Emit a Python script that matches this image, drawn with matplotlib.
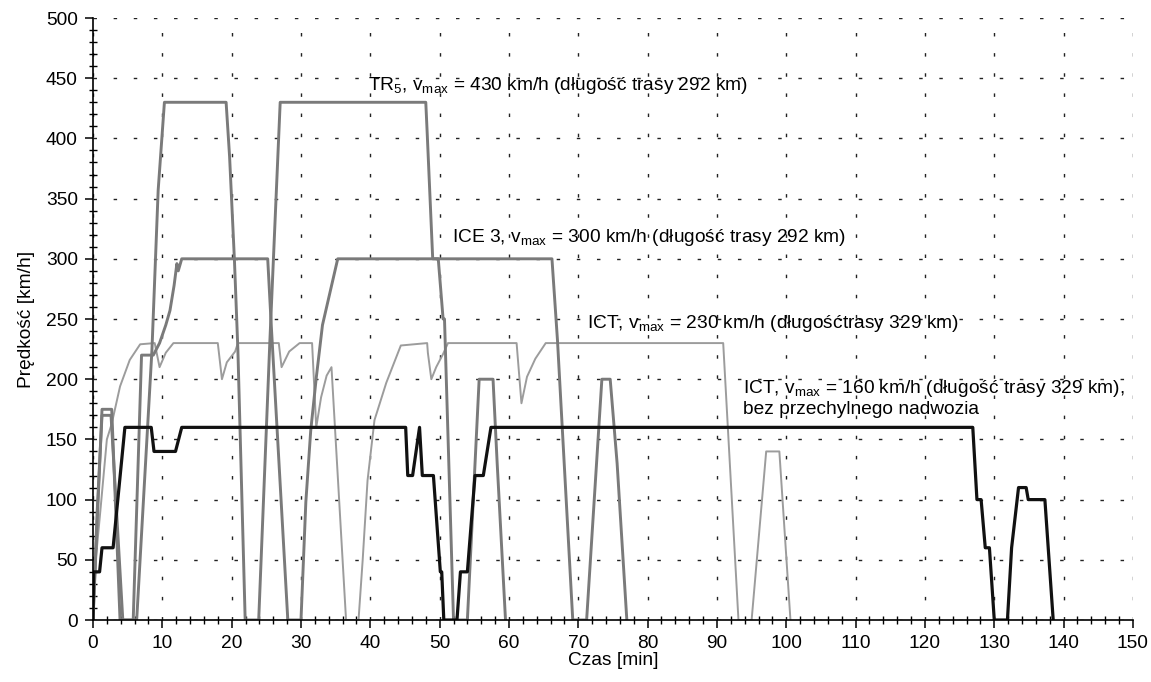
import numpy as np
import matplotlib
matplotlib.use('Agg')
import matplotlib.pyplot as plt
from matplotlib.ticker import MultipleLocator

plt.rcParams['font.family'] = ['Liberation Sans', 'DejaVu Sans']
plt.rcParams['mathtext.default'] = 'regular'

# TR5, vmax 430
tr5_t = [0, 1.3, 2.7, 3.9, 6.3, 8.5, 9.4, 10.3, 19.2, 19.7, 20.4, 20.9, 21.95, 23.9, 25.5, 27.0,
         48.0, 48.2, 49.0, 49.8, 50.5, 50.7, 52.0, 54.0, 55.7, 57.7, 58.3, 59.5]
tr5_v = [0, 175, 175, 0, 0, 224, 357, 430, 430, 385, 299, 224, 0, 0, 230, 430,
         430, 405, 300, 300, 250, 250, 0, 0, 200, 200, 130, 0]

# ICE 3, vmax 300
ice3_t = [0, 0.6, 1.3, 2.6, 4.3, 5.8, 7.0, 8.7, 9.6, 10.5, 11.1, 11.7, 12.1, 12.3, 12.8,
          25.2, 25.7, 28.1, 30.0, 30.7, 31.4, 32.2, 33.1, 34.3, 35.3,
          66.2, 67.0, 69.2, 71.2, 73.4, 74.6, 75.6, 77.0]
ice3_v = [0, 90, 170, 170, 0, 0, 220, 220, 230, 245, 257, 278, 296, 290, 300,
          300, 246, 0, 0, 98, 157, 201, 245, 275, 300,
          300, 232, 0, 0, 200, 200, 130, 0]

# ICT, vmax 230
ict230_t = [0, 0.4, 1.05, 2.0, 2.7, 3.9, 5.3, 6.8, 8.9, 9.6, 10.5, 11.6,
            18.0, 18.6, 19.3, 20.5, 20.9, 26.8, 27.2, 28.3, 29.8, 31.6, 32.2, 32.9, 33.7, 34.4,
            36.5, 38.3, 38.9, 39.6, 40.6, 42.3, 44.4, 48.2, 48.3, 48.8, 49.5, 50.5, 51.2,
            61.1, 61.8, 62.6, 63.8, 65.3, 90.9, 93.1, 95.0, 97.1, 99.0, 100.6]
ict230_v = [0, 50, 90, 150, 163, 194, 216, 229, 230, 210, 222, 230,
            230, 200, 214, 223, 230, 230, 210, 223, 230, 230, 160, 185, 203, 210,
            0, 0, 50, 116, 166, 197, 228, 230, 222, 200, 210, 221, 230,
            230, 180, 202, 217, 230, 230, 0, 0, 140, 140, 0]

# ICT, vmax 160, bez przechylnego nadwozia
ict160_t = [0, 0.1, 0.95, 1.3, 2.9, 4.6, 8.4, 8.8, 11.9, 12.8, 45.1, 45.4, 46.1, 47.1, 47.5,
            49.1, 50.1, 50.3, 50.6, 52.5, 53.0, 54.0, 55.1, 56.3, 57.4,
            126.9, 127.5, 128.1, 128.7, 129.3, 130.0, 131.9, 132.5, 133.5, 134.6, 134.9, 137.3, 138.5]
ict160_v = [0, 40, 40, 60, 60, 160, 160, 140, 140, 160, 160, 120, 120, 160, 120,
            120, 40, 40, 0, 0, 40, 40, 120, 120, 160,
            160, 100, 100, 60, 60, 0, 0, 60, 110, 110, 100, 100, 0]

labels = [r'TR$_5$, v$_{max}$ = 430 km/h (długość trasy 292 km)',
          r'ICE 3, v$_{max}$ = 300 km/h (długość trasy 292 km)',
          r'ICT, v$_{max}$ = 230 km/h (długośćtrasy 329 km)',
          r'ICT, v$_{max}$ = 160 km/h (długość trasy 329 km),',
          'bez przechylnego nadwozia']

fs = 13.8
fig = plt.figure(figsize=(11.51, 6.82), dpi=100)
ax = fig.add_axes([0.0808, 0.0909, 0.9035, 0.8827])

ax.plot(ict230_t, ict230_v, color='#9c9c9c', lw=1.4)
ax.plot(ice3_t, ice3_v, color='#7a7a7a', lw=2.1)
ax.plot(tr5_t, tr5_v, color='#7a7a7a', lw=2.1)
ax.plot(ict160_t, ict160_v, color='#111111', lw=2.3)

ax.set_xlim(0, 150)
ax.set_ylim(0, 500)
ax.xaxis.set_major_locator(MultipleLocator(10))
ax.xaxis.set_minor_locator(MultipleLocator(2))
ax.yaxis.set_major_locator(MultipleLocator(50))
ax.yaxis.set_minor_locator(MultipleLocator(10))

ax.spines['top'].set_visible(False)
ax.spines['right'].set_visible(False)
ax.spines['left'].set_linewidth(1.2)
ax.spines['bottom'].set_linewidth(1.2)
ax.tick_params(which='major', direction='out', length=6, width=1.1, labelsize=fs, pad=5)
ax.tick_params(which='minor', direction='inout', length=6, width=1.0)

ax.grid(True, which='major', color='#222222', lw=1.0, linestyle=(0, (2.5, 12)))
ax.set_axisbelow(True)

ax.set_xlabel('Czas [min]', fontsize=fs, labelpad=0)
ax.set_ylabel('Prędkość [km/h]', fontsize=fs, labelpad=8)

ax.text(39.7, 444, labels[0], fontsize=fs, ha='left', va='center')
ax.text(51.8, 318, labels[1], fontsize=fs, ha='left', va='center')
ax.text(71.2, 246, labels[2], fontsize=fs, ha='left', va='center')
ax.text(93.8, 192, labels[3], fontsize=fs, ha='left', va='center')
ax.text(93.8, 175, labels[4], fontsize=fs, ha='left', va='center')

fig.savefig('out.png', dpi=100)
